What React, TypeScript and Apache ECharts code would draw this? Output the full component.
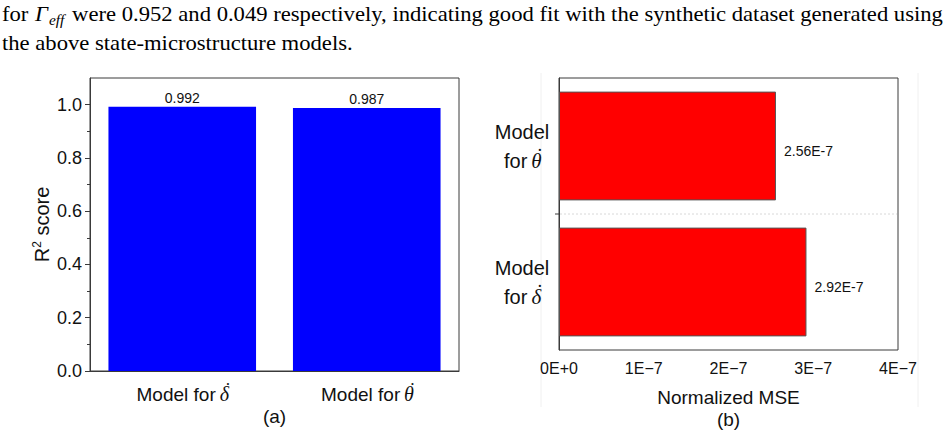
import React, { useEffect, useRef } from "react";
import * as echarts from "echarts";

// Panel (a): coefficient of determination for each rate model
const R2_CATEGORIES = ["Model for δ̇", "Model for θ̇"];
const R2_VALUES = [0.992, 0.987];
const R2_TICKS = [0, 0.2, 0.4, 0.6, 0.8, 1.0];
const R2_MINOR_TICKS = [0.1, 0.3, 0.5, 0.7, 0.9];

// Panel (b): normalized mean squared error (bottom to top)
const MSE_CATEGORIES = ["Model for δ̇", "Model for θ̇"];
const MSE_VALUES = [2.92e-7, 2.56e-7];
const MSE_MINOR_TICKS = [
  0.2e-7, 0.4e-7, 0.6e-7, 0.8e-7,
  1.2e-7, 1.4e-7, 1.6e-7, 1.8e-7,
  2.2e-7, 2.4e-7, 2.6e-7, 2.8e-7,
  3.2e-7, 3.4e-7, 3.6e-7, 3.8e-7,
];

// Running text above the figure
const PARA_LEAD = "for ";
const PARA_SYMBOL = "Γ";
const PARA_SUBSCRIPT = "eff";
const PARA_REST =
  " were 0.952 and 0.049 respectively, indicating good fit with the synthetic dataset generated using";
const PARA_LINE2 = "the above state-microstructure models.";

const SANS = '"Liberation Sans", Arial, sans-serif';
const SERIF = '"Liberation Serif", "Times New Roman", serif';
const AXIS_COLOR = "#3a3a3a";
const TEXT_COLOR = "#111";

// Time-derivative symbols: italic letter with a raised dot accent over it
const symbolRich = (size: number) => ({
  m: { fontFamily: SERIF, fontStyle: "italic" as const, fontSize: size, color: TEXT_COLOR, width: 7, align: "center" as const },
  d: { fontFamily: SERIF, fontSize: size - 1, color: TEXT_COLOR, width: 0, align: "center" as const, padding: [0, 0, 9, 0] },
});

function wrapSymbol(name: string) {
  return name.replace(/([δθ])\u0307/, "{m|$1}{d|˙}");
}

export default function App() {
  const ref = useRef<HTMLDivElement>(null);

  useEffect(() => {
    document.body.style.margin = "0";
    const chart = echarts.init(ref.current!, null, { renderer: "svg" });

    chart.setOption({
      animation: false,
      backgroundColor: "#fff",
      grid: [
        { left: 90, top: 78, width: 369, height: 293, show: true, borderColor: AXIS_COLOR, borderWidth: 1, backgroundColor: "transparent" },
        { left: 559, top: 78, width: 339, height: 272, show: true, borderColor: AXIS_COLOR, borderWidth: 1, backgroundColor: "transparent" },
      ],
      xAxis: [
        {
          gridIndex: 0,
          type: "category",
          data: R2_CATEGORIES,
          axisLine: { lineStyle: { color: AXIS_COLOR } },
          axisTick: { alignWithLabel: true, interval: 0, length: 5, lineStyle: { color: AXIS_COLOR } },
          axisLabel: {
            interval: 0,
            hideOverlap: false,
            fontSize: 19,
            fontFamily: SANS,
            color: TEXT_COLOR,
            lineHeight: 22,
            margin: 12,
            formatter: (v: string) => wrapSymbol(v),
            rich: symbolRich(20),
          },
        },
        {
          gridIndex: 1,
          type: "value",
          min: 0,
          max: 4e-7,
          interval: 1e-7,
          splitLine: { show: false },
          axisLine: { lineStyle: { color: AXIS_COLOR } },
          axisTick: { length: 5, lineStyle: { color: AXIS_COLOR } },
          axisLabel: {
            fontSize: 16,
            fontFamily: SANS,
            color: TEXT_COLOR,
            margin: 10,
            formatter: (v: number) => (v === 0 ? "0E+0" : `${Math.round(v / 1e-7)}E−7`),
          },
          name: "Normalized MSE",
          nameLocation: "middle",
          nameGap: 38,
          nameTextStyle: { fontSize: 19, fontFamily: SANS, color: TEXT_COLOR },
        },
        {
          gridIndex: 1,
          type: "value",
          position: "bottom",
          min: 0,
          max: 4e-7,
          splitLine: { show: false },
          axisLine: { show: false },
          axisLabel: { show: false },
          axisTick: { inside: true, length: 3, customValues: MSE_MINOR_TICKS, lineStyle: { color: AXIS_COLOR } },
        },
      ],
      yAxis: [
        {
          gridIndex: 0,
          type: "value",
          position: "left",
          min: 0,
          max: 1.1,
          splitLine: { show: false },
          axisLine: { show: true, lineStyle: { color: AXIS_COLOR } },
          axisTick: { show: true, length: 5, customValues: R2_TICKS, lineStyle: { color: AXIS_COLOR } },
          axisLabel: {
            customValues: R2_TICKS,
            fontSize: 18,
            fontFamily: SANS,
            color: TEXT_COLOR,
            margin: 8,
            formatter: (v: number) => v.toFixed(1),
          },
          name: "R{sup|2} score",
          nameLocation: "middle",
          nameRotate: 90,
          nameGap: 36,
          nameTextStyle: {
            fontSize: 20,
            fontFamily: SANS,
            color: TEXT_COLOR,
            lineHeight: 22,
            rich: { sup: { fontSize: 12, fontFamily: SANS, color: TEXT_COLOR, verticalAlign: "top", lineHeight: 12 } },
          },
        },
        {
          gridIndex: 0,
          type: "value",
          position: "left",
          min: 0,
          max: 1.1,
          splitLine: { show: false },
          axisLine: { show: false },
          axisLabel: { show: false },
          axisTick: { show: true, length: 3, customValues: R2_MINOR_TICKS, lineStyle: { color: AXIS_COLOR } },
        },
        {
          gridIndex: 1,
          type: "category",
          data: MSE_CATEGORIES,
          axisLine: { lineStyle: { color: AXIS_COLOR } },
          axisTick: { alignWithLabel: true, interval: 0, length: 4, lineStyle: { color: AXIS_COLOR } },
          axisLabel: {
            interval: 0,
            hideOverlap: false,
            fontSize: 20,
            fontFamily: SANS,
            color: TEXT_COLOR,
            align: "center",
            lineHeight: 29,
            margin: 37,
            formatter: (v: string) => wrapSymbol(v.replace("Model for ", "Model\nfor ")),
            rich: symbolRich(21),
          },
        },
      ],
      series: [
        {
          type: "bar",
          xAxisIndex: 0,
          yAxisIndex: 0,
          data: R2_VALUES,
          barWidth: "80%",
          itemStyle: { color: "#0000ff" },
          label: {
            show: true,
            position: "top",
            distance: 2,
            fontSize: 14,
            fontFamily: SANS,
            color: TEXT_COLOR,
            formatter: (p: any) => Number(p.value).toFixed(3),
          },
        },
        {
          type: "bar",
          xAxisIndex: 1,
          yAxisIndex: 2,
          data: MSE_VALUES,
          barWidth: "80%",
          itemStyle: { color: "#ff0000", borderColor: "#555", borderWidth: 1 },
          label: {
            show: true,
            position: "right",
            distance: 8,
            offset: [0, 5],
            fontSize: 14,
            fontFamily: SANS,
            color: TEXT_COLOR,
            formatter: (p: any) => `${(Number(p.value) / 1e-7).toFixed(2)}E-7`,
          },
        },
      ],
    });

    // Paragraph layout: measure the pieces so the subscript sits right after the symbol
    const ctx = document.createElement("canvas").getContext("2d")!;
    const measure = (s: string, font: string) => {
      ctx.font = font;
      return ctx.measureText(s).width;
    };
    const fs = 22;
    const subFs = 15;
    const wLead = measure(PARA_LEAD, `${fs}px ${SERIF}`);
    const wSym = measure(PARA_SYMBOL, `italic ${fs}px ${SERIF}`);
    const wSub = measure(PARA_SUBSCRIPT, `italic ${subFs}px ${SERIF}`);
    const wRest = measure(PARA_REST, `${fs}px ${SERIF}`);
    const xSym = wLead + 1;
    const xSub = xSym + wSym + 1;
    const xRest = xSub + wSub + 2;
    const lineWidth = xRest + wRest;
    const squeeze = 941 / lineWidth;
    const line1Y = 14;
    const line2Y = 43;
    const serifText = (text: string, x: number, y: number, size: number, italic = false) => ({
      type: "text",
      x,
      y,
      style: {
        text,
        fontSize: size,
        fontFamily: SERIF,
        fontStyle: italic ? "italic" : "normal",
        fill: "#000",
        align: "left",
        verticalAlign: "middle",
      },
    });

    // Divider between the two categories of panel (b)
    const yTop = chart.convertToPixel({ yAxisIndex: 2 }, MSE_CATEGORIES[1]) as number;
    const yBottom = chart.convertToPixel({ yAxisIndex: 2 }, MSE_CATEGORIES[0]) as number;
    const yMid = (yTop + yBottom) / 2;
    const xLeft = chart.convertToPixel({ xAxisIndex: 1 }, 0) as number;
    const xRight = chart.convertToPixel({ xAxisIndex: 1 }, 4e-7) as number;
    const xA = ((chart.convertToPixel({ xAxisIndex: 0 }, R2_CATEGORIES[0]) as number) +
      (chart.convertToPixel({ xAxisIndex: 0 }, R2_CATEGORIES[1]) as number)) / 2;

    chart.setOption({
      graphic: [
        {
          type: "group",
          x: 2,
          y: 0,
          scaleX: squeeze,
          children: [
            serifText(PARA_LEAD, 0, line1Y, fs),
            serifText(PARA_SYMBOL, xSym, line1Y, fs, true),
            serifText(PARA_SUBSCRIPT, xSub, line1Y + 6, subFs, true),
            serifText(PARA_REST, xRest, line1Y, fs),
            serifText(PARA_LINE2, 0, line2Y, fs),
          ],
        },
        {
          type: "line",
          shape: { x1: xLeft + 1, y1: yMid, x2: xRight - 1, y2: yMid },
          style: { stroke: "#d8d8d8", lineWidth: 1, lineDash: [2, 2] },
          z: 5,
        },
        {
          type: "line",
          shape: { x1: xLeft - 4, y1: yMid, x2: xLeft, y2: yMid },
          style: { stroke: AXIS_COLOR, lineWidth: 1 },
          z: 5,
        },
        {
          type: "line",
          shape: { x1: 541, y1: 73, x2: 541, y2: 407 },
          style: { stroke: "#f0f0f0", lineWidth: 1 },
        },
        {
          type: "line",
          shape: { x1: 918, y1: 73, x2: 918, y2: 407 },
          style: { stroke: "#f0f0f0", lineWidth: 1 },
        },
        {
          type: "text",
          x: xA,
          y: 416,
          style: { text: "(a)", fontSize: 19, fontFamily: SANS, fill: TEXT_COLOR, align: "center", verticalAlign: "middle" },
        },
        {
          type: "text",
          x: (xLeft + xRight) / 2,
          y: 419,
          style: { text: "(b)", fontSize: 19, fontFamily: SANS, fill: TEXT_COLOR, align: "center", verticalAlign: "middle" },
        },
      ],
    });

    return () => chart.dispose();
  }, []);

  return <div ref={ref} style={{ width: 948, height: 441 }} />;
}
